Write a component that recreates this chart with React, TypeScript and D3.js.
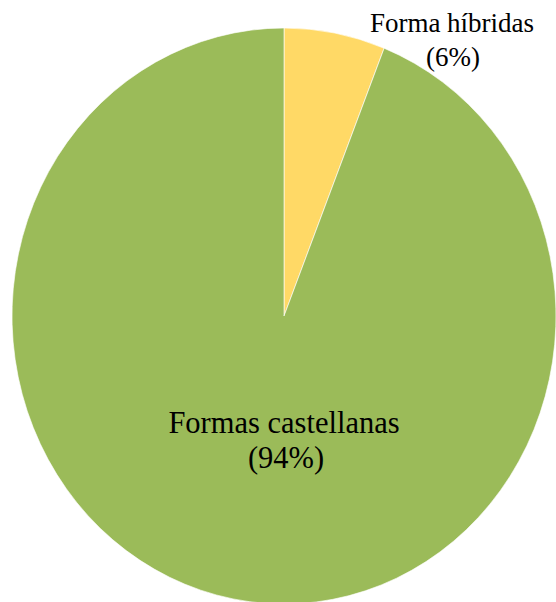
import React from "react";
import * as d3 from "d3";

const labels = ["Forma híbridas", "Formas castellanas"];
const percents = ["(6%)", "(94%)"];
const values = [6, 94];
const colors = ["#FFD966", "#9BBB59"];

export default function App() {
  const W = 556, H = 602;
  const cx = 284, cy = 316, rx = 272, ry = 288;
  const pie = d3.pie<number>().sort(null).value((d) => d)(values);
  const arc = d3.arc<d3.PieArcDatum<number>>().innerRadius(0).outerRadius(rx);
  return (
    <svg width={W} height={H} style={{ position: "absolute", left: 0, top: 0, background: "#fff" }}>
      <g transform={`translate(${cx},${cy}) scale(1,${ry / rx})`}>
        {pie.map((p, i) => (
          <path key={i} d={arc(p) || ""} fill={colors[i]} stroke="#fff" strokeWidth={0.6} />
        ))}
      </g>
      <g fontFamily="'Liberation Serif', 'Times New Roman', serif" fill="#000" textAnchor="middle">
        <text x={452} y={32} fontSize={27}>{labels[0]}</text>
        <text x={453} y={66} fontSize={27}>{percents[0]}</text>
        <text x={284} y={433} fontSize={30.5}>{labels[1]}</text>
        <text x={286} y={468} fontSize={30.5}>{percents[1]}</text>
      </g>
    </svg>
  );
}
